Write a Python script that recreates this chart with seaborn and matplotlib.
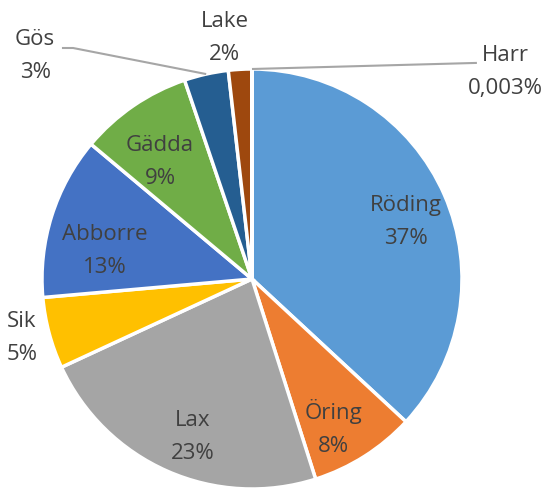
import matplotlib
matplotlib.use("Agg")
import matplotlib.pyplot as plt
import numpy as np
import seaborn as sns

# Data (share of catch per species)
species = ["Röding", "Öring", "Lax", "Sik", "Abborre", "Gädda", "Gös", "Lake", "Harr"]
shares = [36.9, 8.2, 23.0, 5.5, 12.5, 8.7, 3.4, 1.8, 0.003]
pct_labels = ["37%", "8%", "23%", "5%", "13%", "9%", "3%", "2%", "0,003%"]
colors = ["#5B9BD5", "#ED7D31", "#A5A5A5", "#FFC000", "#4472C4",
          "#70AD47", "#255E91", "#9E480E", "#636363"]

# label centres in pie units (radius = 1)
label_pos = [(0.733, 0.271), (0.386, -0.710), (-0.281, -0.752), (-1.095, -0.281),
             (-0.700, 0.133), (-0.438, 0.557), (-1.033, 1.062), (-0.129, 1.148),
             (1.205, 0.986)]
# leader line elbows for labels placed outside
leaders = {"Gös": [(-0.905, 1.10), (-0.852, 1.10)], "Harr": [(1.071, 1.029)]}

sns.set_theme(style="white")
plt.rcParams["font.family"] = ["Open Sans", "DejaVu Sans"]
text_color = "#404040"

fig = plt.figure(figsize=(5.49, 4.88), dpi=100)
ax = fig.add_axes([0, 0, 1, 1])

wedges, _ = ax.pie(
    shares,
    colors=colors,
    startangle=90,
    counterclock=False,
    radius=1.0,
    wedgeprops=dict(edgecolor="white", linewidth=2.5),
)

for w, name, pct, (lx, ly) in zip(wedges, species, pct_labels, label_pos):
    ax.text(lx, ly, f"{name}\n{pct}", ha="center", va="center",
            fontsize=16, color=text_color, linespacing=1.75)
    if name in leaders:
        mid = np.deg2rad((w.theta1 + w.theta2) / 2)
        end = (np.cos(mid), np.sin(mid))
        pts = leaders[name] + [end]
        xs, ys = zip(*pts)
        ax.plot(xs, ys, color="#A6A6A6", lw=1.5, solid_capstyle="butt")

ax.set_xlim(-252 / 210, (549 - 252) / 210)
ax.set_ylim(-(488 - 279) / 210, 279 / 210)
ax.set_aspect("equal")
ax.axis("off")

fig.savefig("out.png", dpi=100)
